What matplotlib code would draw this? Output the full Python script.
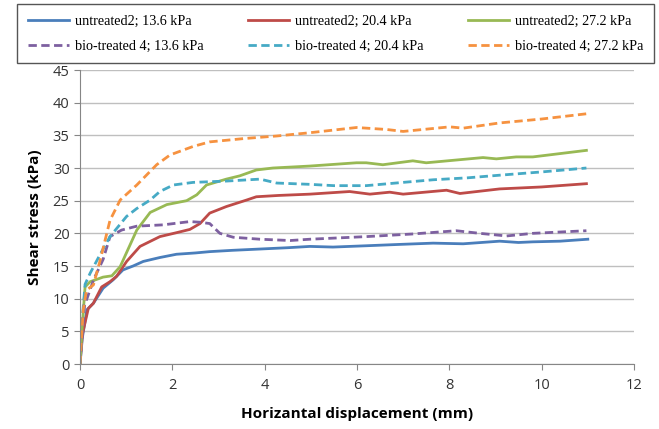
import matplotlib
matplotlib.use("Agg")
import matplotlib.pyplot as plt

# untreated 2; 13.6 kPa
x_u136 = [0, 0.05, 0.15, 0.29, 0.5, 0.72, 0.93, 1.15, 1.37, 1.73, 2.09, 2.5, 2.81, 3.3, 3.9, 4.5, 4.98, 5.48, 6.2, 6.9, 7.65, 8.3, 9.09, 9.5, 9.81, 10.4, 11.0]
y_u136 = [0, 4.0, 8.3, 9.3, 11.6, 12.9, 14.4, 15.0, 15.7, 16.3, 16.8, 17.0, 17.2, 17.4, 17.6, 17.8, 18.0, 17.9, 18.1, 18.3, 18.5, 18.4, 18.8, 18.6, 18.7, 18.8, 19.1]

# untreated 2; 20.4 kPa
x_u204 = [0, 0.05, 0.18, 0.29, 0.47, 0.65, 0.79, 1.01, 1.3, 1.73, 2.09, 2.38, 2.6, 2.81, 3.17, 3.61, 3.82, 4.3, 4.98, 5.84, 6.28, 6.71, 7.0, 7.94, 8.23, 9.09, 10.0, 10.97]
y_u204 = [0, 4.5, 8.5, 9.3, 11.8, 12.6, 13.4, 15.7, 18.0, 19.5, 20.1, 20.6, 21.5, 23.1, 24.1, 25.1, 25.6, 25.8, 26.0, 26.4, 26.0, 26.3, 26.0, 26.6, 26.1, 26.8, 27.1, 27.6]

# untreated 2; 27.2 kPa
x_u272 = [0, 0.05, 0.11, 0.22, 0.5, 0.69, 0.87, 1.23, 1.52, 1.88, 2.31, 2.53, 2.74, 3.17, 3.46, 3.82, 4.18, 4.98, 5.99, 6.2, 6.56, 7.21, 7.5, 8.73, 9.02, 9.45, 9.81, 10.97]
y_u272 = [0, 6.0, 11.8, 12.6, 13.3, 13.5, 14.9, 20.5, 23.2, 24.4, 25.0, 25.9, 27.4, 28.3, 28.8, 29.7, 30.0, 30.3, 30.8, 30.8, 30.5, 31.1, 30.8, 31.6, 31.4, 31.7, 31.7, 32.7]

# bio-treated 4; 13.6 kPa
x_b136 = [0, 0.1, 0.3, 0.5, 0.65, 0.9, 1.23, 1.8, 2.38, 2.6, 2.81, 3.03, 3.32, 3.9, 4.55, 4.98, 6.2, 7.2, 8.15, 8.66, 9.24, 9.81, 10.97]
y_b136 = [0, 9.0, 13.0, 16.0, 19.5, 20.5, 21.1, 21.3, 21.8, 21.7, 21.5, 20.0, 19.4, 19.1, 18.9, 19.1, 19.5, 19.9, 20.4, 20.0, 19.6, 20.0, 20.4]

# bio-treated 4; 20.4 kPa
x_b204 = [0, 0.05, 0.11, 0.22, 0.43, 0.65, 1.01, 1.23, 1.52, 1.73, 2.02, 2.45, 3.17, 3.9, 4.26, 4.98, 5.5, 6.2, 7.0, 7.65, 8.4, 9.09, 10.0, 10.97]
y_b204 = [0, 7.0, 12.2, 13.9, 16.7, 19.5, 22.6, 23.8, 25.1, 26.4, 27.4, 27.8, 28.0, 28.3, 27.7, 27.5, 27.3, 27.3, 27.8, 28.2, 28.5, 28.9, 29.4, 30.0]

# bio-treated 4; 27.2 kPa
x_b272 = [0, 0.07, 0.14, 0.29, 0.43, 0.65, 0.87, 1.23, 1.66, 1.95, 2.45, 2.81, 3.54, 4.26, 4.98, 5.99, 6.64, 7.0, 8.01, 8.3, 9.09, 10.0, 10.97]
y_b272 = [0, 8.3, 11.3, 12.1, 15.7, 22.0, 25.1, 27.4, 30.5, 32.0, 33.3, 34.0, 34.5, 34.9, 35.4, 36.2, 35.9, 35.6, 36.3, 36.1, 36.9, 37.5, 38.3]

labels = ["untreated2; 13.6 kPa", "untreated2; 20.4 kPa", "untreated2; 27.2 kPa",
          "bio-treated 4; 13.6 kPa", "bio-treated 4; 20.4 kPa", "bio-treated 4; 27.2 kPa"]

fig = plt.figure(figsize=(6.59, 4.29), dpi=100)
ax = fig.add_axes([0.1214, 0.1515, 0.8406, 0.6853])

lw = 2.0
h1, = ax.plot(x_u136, y_u136, color="#4A7EBB", lw=lw)
h2, = ax.plot(x_u204, y_u204, color="#BE4B48", lw=lw)
h3, = ax.plot(x_u272, y_u272, color="#98B954", lw=lw)
h4, = ax.plot(x_b136, y_b136, color="#7D60A0", lw=lw, dashes=(3, 1.6))
h5, = ax.plot(x_b204, y_b204, color="#46AAC5", lw=lw, dashes=(3, 1.6))
h6, = ax.plot(x_b272, y_b272, color="#F69240", lw=lw, dashes=(3, 1.6))

ax.set_xlim(0, 12)
ax.set_ylim(0, 45)
ax.set_xticks(range(0, 13, 2))
ax.set_yticks(range(0, 46, 5))
ax.yaxis.grid(True, color="#BFBFBF", lw=1.0)
ax.set_axisbelow(True)
for s in ["top", "right"]:
    ax.spines[s].set_visible(False)
for s in ["left", "bottom"]:
    ax.spines[s].set_color("#868686")
ax.tick_params(direction="out", length=4, color="#868686", labelsize=10.5,
               labelcolor="#333333")
for t in ax.get_xticklabels() + ax.get_yticklabels():
    t.set_family("Open Sans")
ax.tick_params(axis="x", pad=6)

ax.set_xlabel("Horizantal displacement (mm)", fontsize=11, fontweight="bold",
              family="Open Sans", labelpad=10)
ax.set_ylabel("Shear stress (kPa)", fontsize=11, fontweight="bold",
              family="Open Sans", labelpad=8)

# legend fills column-wise, so interleave to get rows like the original
handles = [h1, h4, h2, h5, h3, h6]
leg_labels = [labels[0], labels[3], labels[1], labels[4], labels[2], labels[5]]
leg = fig.legend(handles, leg_labels, ncol=3, loc="upper left",
                 bbox_to_anchor=(0.026, 0.86, 0.967, 0.131), mode="expand",
                 prop={"family": "Liberation Serif", "size": 10.2},
                 fancybox=False, edgecolor="#555555", handlelength=2.9,
                 handletextpad=0.45, borderpad=0.75, borderaxespad=0,
                 labelspacing=0.85, columnspacing=0.8, framealpha=1)
leg.get_frame().set_linewidth(1.0)

fig.savefig("out.png", dpi=100)
